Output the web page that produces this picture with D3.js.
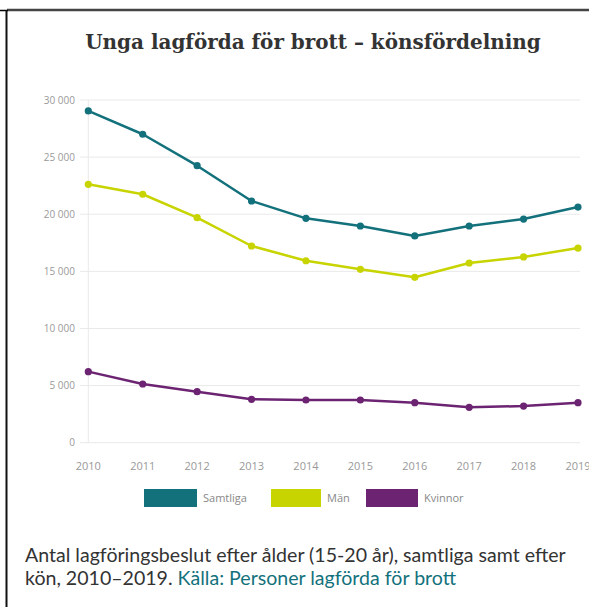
<!DOCTYPE html>
<html>
<head>
<meta charset="utf-8">
<script src="https://cdn.jsdelivr.net/npm/d3@7"></script>
<style>
  body { margin: 0; background: #fff; }
  svg { display: block; }
</style>
</head>
<body>
<div id="chart"></div>
<script>
/* CONSTANTS AND GLOBALS */
const width = 589,
  height = 607,
  margin = { top: 100, bottom: 164.3, left: 88.3, right: 11 };

/* DATA */
const years = [2010, 2011, 2012, 2013, 2014, 2015, 2016, 2017, 2018, 2019];
const samtliga = [29040, 27000, 24250, 21160, 19640, 18970, 18100, 18970, 19580, 20630];
const man = [22620, 21750, 19700, 17220, 15930, 15180, 14480, 15730, 16260, 17040];
const kvinnor = [6220, 5140, 4470, 3800, 3740, 3740, 3500, 3100, 3210, 3500];
const yTicks = [0, 5000, 10000, 15000, 20000, 25000, 30000];
const seriesNames = ["Samtliga", "Män", "Kvinnor"];
const colors = ["#13717c", "#c8d400", "#6c2472"];

const title = "Unga lagförda för brott – könsfördelning";
const captionLine1 = "Antal lagföringsbeslut efter ålder (15-20 år), samtliga samt efter";
const captionLine2 = "kön, 2010–2019. ";
const captionLink = "Källa: Personer lagförda för brott";

const series = [samtliga, man, kvinnor].map((vals, i) => ({
  name: seriesNames[i],
  color: colors[i],
  values: vals.map((v, j) => ({ year: years[j], value: v }))
}));

// swedish number format, space as thousands separator
const sv = d3.formatLocale({ decimal: ",", thousands: "\u00a0", grouping: [3], currency: ["", " kr"] });
const fmt = sv.format(",");

/* SVG */
const svg = d3.select("#chart").append("svg")
  .attr("width", width)
  .attr("height", height);

svg.append("rect").attr("width", width).attr("height", height).attr("fill", "#fff");

// frame (cropped border)
svg.append("line").attr("x1", 7).attr("x2", width).attr("y1", 10).attr("y2", 10)
  .attr("stroke", "#444").attr("stroke-width", 2.5);
svg.append("line").attr("x1", 0).attr("x2", 8).attr("y1", 10.5).attr("y2", 10.5)
  .attr("stroke", "#000").attr("stroke-width", 1.5);
svg.append("line").attr("x1", 6.5).attr("x2", 6.5).attr("y1", 10).attr("y2", height)
  .attr("stroke", "#111").attr("stroke-width", 2);

// title
const titleText = svg.append("text")
  .attr("x", 313)
  .attr("y", 49)
  .attr("text-anchor", "middle")
  .attr("font-family", "DejaVu Serif, serif")
  .attr("font-weight", "bold")
  .attr("font-size", 19)
  .attr("fill", "#333")
  .text(title);
const tw = titleText.node().getComputedTextLength();
titleText.attr("font-size", 19 * 456 / tw);

/* SCALES */
const xScale = d3.scaleLinear()
  .domain([2010, 2019])
  .range([margin.left, width - margin.right]);

const yScale = d3.scaleLinear()
  .domain([0, 30000])
  .range([height - margin.bottom, margin.top]);

// gridlines
svg.append("g")
  .selectAll("line")
  .data(yTicks)
  .join("line")
  .attr("x1", 80)
  .attr("x2", 580)
  .attr("y1", d => yScale(d))
  .attr("y2", d => yScale(d))
  .attr("stroke", "#e9e9e9")
  .attr("stroke-width", 1);

svg.append("line")
  .attr("x1", xScale(2010)).attr("x2", xScale(2010))
  .attr("y1", yScale(30000)).attr("y2", yScale(0))
  .attr("stroke", "#e9e9e9");

// y labels
svg.append("g")
  .selectAll("text")
  .data(yTicks)
  .join("text")
  .attr("x", 75)
  .attr("y", d => yScale(d))
  .attr("dy", "0.35em")
  .attr("text-anchor", "end")
  .attr("font-family", "Open Sans, sans-serif")
  .attr("font-size", 10)
  .attr("fill", "#9a9a9a")
  .text(d => fmt(d));

// x labels
svg.append("g")
  .selectAll("text")
  .data(years)
  .join("text")
  .attr("x", d => xScale(d))
  .attr("y", 470)
  .attr("text-anchor", "middle")
  .attr("font-family", "Open Sans, sans-serif")
  .attr("font-size", 11)
  .attr("fill", "#999")
  .text(d => d);

/* LINES */
const line = d3.line()
  .x(d => xScale(d.year))
  .y(d => yScale(d.value));

const g = svg.append("g")
  .selectAll("g")
  .data(series)
  .join("g");

g.append("path")
  .attr("d", d => line(d.values))
  .attr("fill", "none")
  .attr("stroke", d => d.color)
  .attr("stroke-width", 2.5)
  .attr("stroke-linejoin", "round");

g.selectAll("circle")
  .data(d => d.values.map(v => ({ ...v, color: d.color })))
  .join("circle")
  .attr("cx", d => xScale(d.year))
  .attr("cy", d => yScale(d.value))
  .attr("r", 3.6)
  .attr("fill", d => d.color);

/* LEGEND */
const legendX = [144, 271, 366];
const legend = svg.append("g")
  .selectAll("g")
  .data(series)
  .join("g")
  .attr("transform", (d, i) => `translate(${legendX[i]},489)`);

legend.append("rect")
  .attr("width", (d, i) => [53, 50, 52][i])
  .attr("height", 18)
  .attr("fill", d => d.color);

legend.append("text")
  .attr("x", (d, i) => [53, 50, 52][i] + 6)
  .attr("y", 9)
  .attr("dy", "0.35em")
  .attr("font-family", "Open Sans, sans-serif")
  .attr("font-size", 11)
  .attr("fill", "#888")
  .text(d => d.name);

/* CAPTION */
const cap1 = svg.append("text")
  .attr("x", 25)
  .attr("y", 562)
  .attr("font-family", "Lato, sans-serif")
  .attr("font-size", 15)
  .attr("fill", "#333")
  .text(captionLine1);
const cw = cap1.node().getComputedTextLength();
const capSize = 15 * 541 / cw;
cap1.attr("font-size", capSize);

const cap2 = svg.append("text")
  .attr("x", 25)
  .attr("y", 585)
  .attr("font-family", "Lato, sans-serif")
  .attr("font-size", capSize)
  .attr("fill", "#333");
cap2.append("tspan").text(captionLine2);
cap2.append("tspan").attr("fill", "#13717c").text(captionLink);
</script>
</body>
</html>
